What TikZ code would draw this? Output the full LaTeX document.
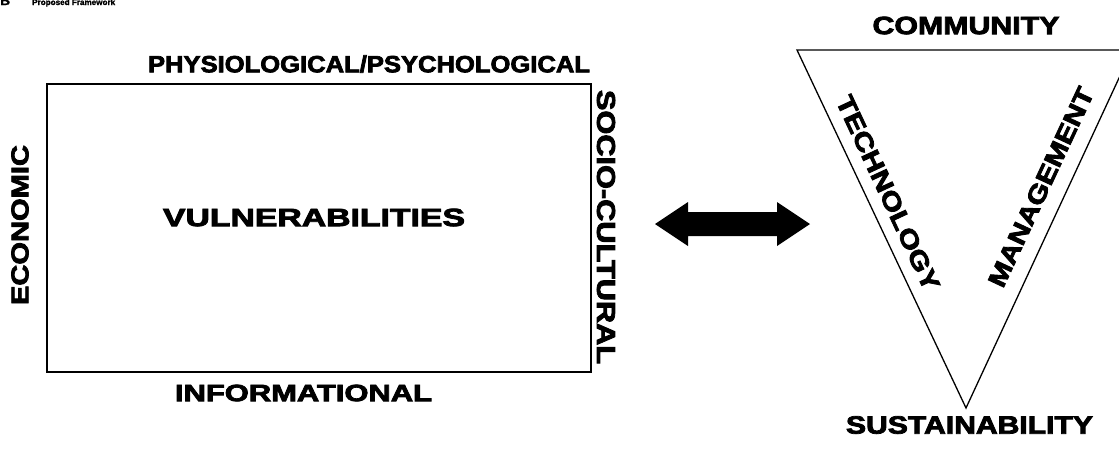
\documentclass[tikz,border=0pt]{standalone}
\usepackage{fontspec}
\setmainfont{Liberation Sans}
\newfontfamily\heavy[FakeBold=3]{Liberation Sans Bold}
\newfontfamily\heavysmall[FakeBold=1.5]{Liberation Sans Bold}
\usepackage{graphicx}
\newcommand{\fitlbl}[3]{\resizebox{#1pt}{#2pt}{\heavy #3}}
\begin{document}
\begin{tikzpicture}[x=1pt,y=-1pt,
  lbl/.style={inner sep=0pt, outer sep=0pt, anchor=center},
  framebox/.style={draw, line width=2pt, inner sep=0pt, minimum width=544pt, minimum height=288pt},
  triline/.style={line width=1.3pt, line join=miter},
  blockarrow/.style={fill=black, draw=none}]
\useasboundingbox (0,0) rectangle (1119,451);
\clip (0,0) rectangle (1119,451);

% title (cut at the top)
\node[inner sep=0pt, anchor=base west] (tB) at (0,5) {\resizebox{10pt}{9pt}{\heavysmall B}};
\node[inner sep=0pt, anchor=base west] (tPF) at (32,5) {\resizebox{83pt}{!}{\heavysmall Proposed Framework}};

% left frame
\node[framebox] (box) at (319,228) {};
\node[lbl] (vul) at (314,217.5) {\fitlbl{302}{17.5}{VULNERABILITIES}};
\node[lbl] (phys) at (369,64) {\fitlbl{442}{17}{PHYSIOLOGICAL/PSYCHOLOGICAL}};
\node[lbl] (info) at (303.5,393) {\fitlbl{257}{16.5}{INFORMATIONAL}};
\node[lbl, rotate=90] (econ) at (20,225) {\fitlbl{160}{17}{ECONOMIC}};
\node[lbl, rotate=-90] (socio) at (606,227) {\fitlbl{274}{18}{SOCIO-CULTURAL}};

% double arrow
\path[blockarrow] (655,224) -- (688,202) -- (688,212) -- (777,212) -- (777,202)
  -- (810,224) -- (777,246) -- (777,236) -- (688,236) -- (688,246) -- cycle;

% triangle
\coordinate (tl) at (797,50);
\coordinate (tr) at (1132,50);
\coordinate (tb) at (966,408);
\draw[triline] (tl) -- (tr) -- (tb) -- cycle;
\node[lbl] (comm) at (966,25.5) {\fitlbl{187}{17.5}{COMMUNITY}};
\node[lbl] (sust) at (969.5,425) {\fitlbl{247}{17.5}{SUSTAINABILITY}};
\node[lbl, rotate=-65] (tech) at (888,193) {\fitlbl{212}{17.5}{TECHNOLOGY}};
\node[lbl, rotate=65] (mgmt) at (1041,187) {\fitlbl{217}{17.5}{MANAGEMENT}};
\end{tikzpicture}
\end{document}
